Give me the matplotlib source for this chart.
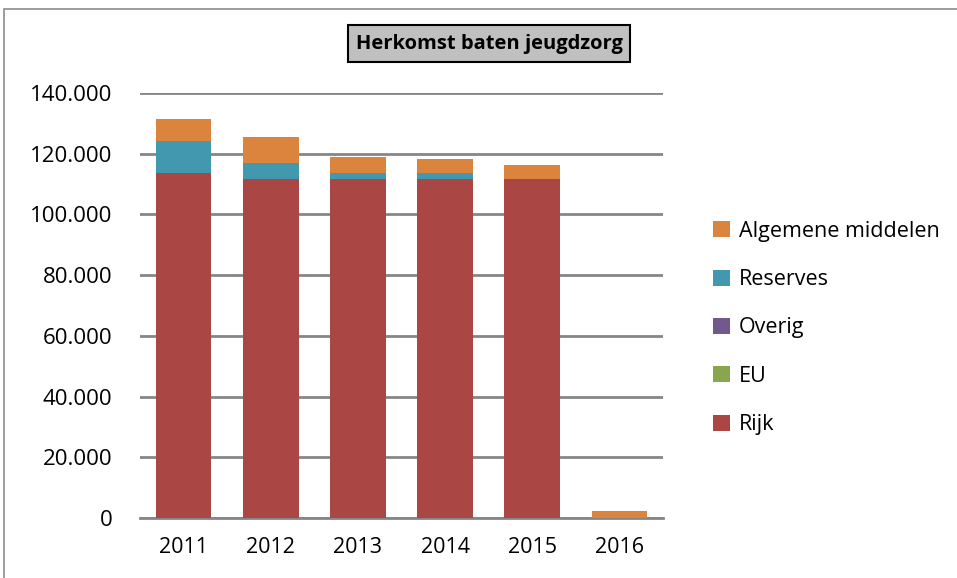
import matplotlib.pyplot as plt
from matplotlib.patches import Rectangle
from matplotlib.ticker import FuncFormatter
import numpy as np

plt.rcParams['font.family'] = ['Open Sans', 'DejaVu Sans']

jaren = ['2011', '2012', '2013', '2014', '2015', '2016']
rijk = [113600, 111700, 111700, 111700, 111700, 0]
eu = [0, 0, 0, 0, 0, 0]
overig = [0, 0, 0, 0, 0, 0]
reserves = [10600, 5200, 1900, 1900, 0, 0]
algemeen = [7200, 8600, 5300, 4600, 4600, 2300]

series = [
    ('Rijk', rijk, '#AA4643'),
    ('EU', eu, '#89A54E'),
    ('Overig', overig, '#71588F'),
    ('Reserves', reserves, '#4198AF'),
    ('Algemene middelen', algemeen, '#DB843D'),
]

fig = plt.figure(figsize=(9.57, 5.78), dpi=100)
# kader rond de grafiek
fig.patches.append(Rectangle((4 / 957, -0.1), 1.2, 1 - 9 / 578 + 0.1,
                             transform=fig.transFigure, fill=False,
                             edgecolor='#8c8c8c', linewidth=1.2))

ax = fig.add_axes([140 / 957, 1 - 518 / 578, 523 / 957, 425 / 578])
x = np.arange(len(jaren))
bottom = np.zeros(len(jaren))
handles = []
for naam, waarden, kleur in series:
    b = ax.bar(x, waarden, 0.64, bottom=bottom, color=kleur, label=naam, zorder=3)
    handles.append(b)
    bottom += np.array(waarden)

ax.set_xlim(-0.5, len(jaren) - 0.5)
ax.set_ylim(0, 140000)
ax.set_yticks(np.arange(0, 140001, 20000))
ax.yaxis.set_major_formatter(FuncFormatter(lambda v, p: f'{int(v):,}'.replace(',', '.')))
ax.set_xticks(x)
ax.set_xticklabels(jaren)
ax.tick_params(axis='y', length=0, pad=20, labelsize=16)
ax.tick_params(axis='x', length=0, pad=14, labelsize=15.5)
ax.grid(axis='y', color='#868686', linewidth=2, zorder=0)
for s in ['left', 'right', 'top']:
    ax.spines[s].set_visible(False)
ax.spines['bottom'].set_color('#868686')
ax.spines['bottom'].set_linewidth(2)

fig.text(489 / 957, 1 - 43.5 / 578, 'Herkomst baten jeugdzorg', ha='center', va='center',
         fontsize=14.5, fontweight='bold',
         bbox=dict(boxstyle='square,pad=0.4', facecolor='#c0c0c0', edgecolor='black', linewidth=1.5))

fig.legend(handles[::-1], [s[0] for s in series][::-1], loc='center left',
           bbox_to_anchor=(694 / 957, 1 - 328 / 578), frameon=False, fontsize=15.5,
           handlelength=0.75, handleheight=0.75, labelspacing=1.27, handletextpad=0.45)

fig.savefig('out.png', dpi=100)
